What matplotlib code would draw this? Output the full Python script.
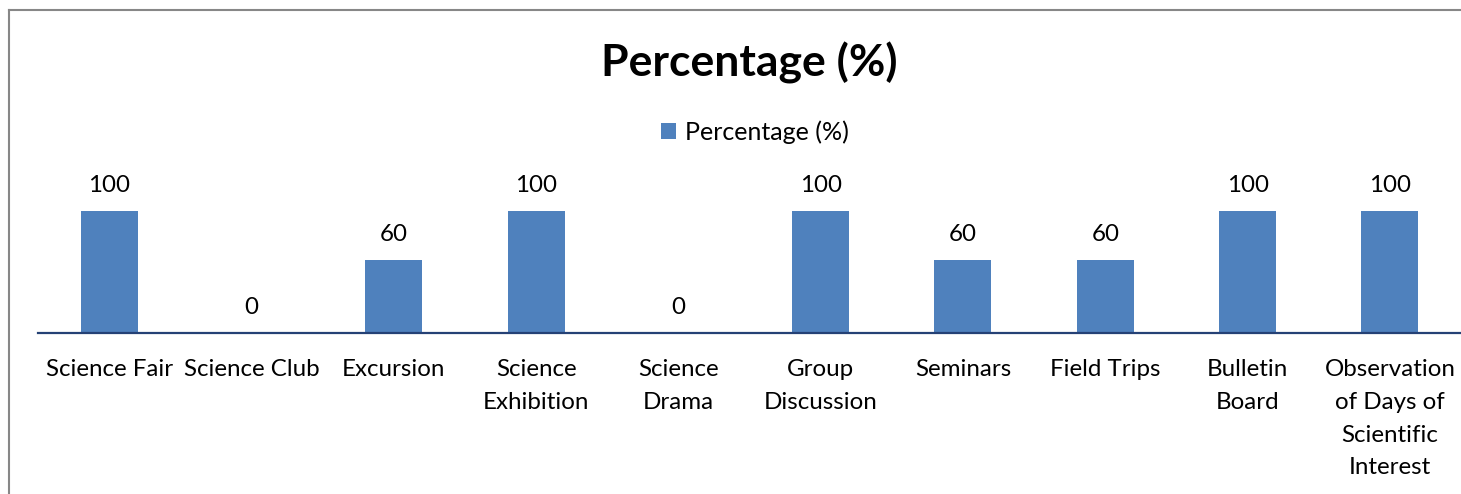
import matplotlib.pyplot as plt
from matplotlib.lines import Line2D

categories = ["Science Fair", "Science Club", "Excursion", "Science\nExhibition",
              "Science\nDrama", "Group\nDiscussion", "Seminars", "Field Trips",
              "Bulletin\nBoard", "Observation\nof Days of\nScientific\nInterest"]
values = [100, 0, 60, 100, 0, 100, 60, 60, 100, 100]
series_name = "Percentage (%)"

plt.rcParams['font.family'] = ['Lato', 'DejaVu Sans']

W, H = 1461, 494
fig = plt.figure(figsize=(W / 100, H / 100), dpi=100)

# plot area in pixel units
left, right, top, bottom = 38, 1461, 150, 333
ax = fig.add_axes([left / W, (H - bottom) / H, (right - left) / W, (bottom - top) / H])

bar_color = '#4F81BD'
x = range(len(categories))
bars = ax.bar(x, values, width=0.4, color=bar_color, label=series_name, zorder=2)
ax.set_xlim(-0.5, len(categories) - 0.5)
ax.set_ylim(0, 150)

for b, v in zip(bars, values):
    ax.annotate(str(v), (b.get_x() + b.get_width() / 2, v), xytext=(0, 10.5),
                textcoords='offset points', ha='center', va='bottom', fontsize=17.4)

ax.set_xticks(list(x))
ax.set_xticklabels(categories, fontsize=17.4, linespacing=1.68)
ax.tick_params(axis='x', length=0, pad=19)
ax.set_yticks([])
for s in ['top', 'right', 'left']:
    ax.spines[s].set_visible(False)
ax.spines['bottom'].set_color('#254175')
ax.spines['bottom'].set_linewidth(1.6)

fig.text(749 / W, 1 - 63 / H, series_name, ha='center', va='center',
         fontsize=32, fontweight='bold')
fig.legend(handles=[bars], labels=[series_name], loc='center',
           bbox_to_anchor=(755 / W, 1 - 132 / H), frameon=False, fontsize=18,
           handlelength=0.6, handleheight=0.6, handletextpad=0.35)

# outer chart frame
frame = '#878787'
fig.add_artist(Line2D([8.5 / W, 8.5 / W], [0, 1 - 10 / H], color=frame, lw=1.5,
                      transform=fig.transFigure))
fig.add_artist(Line2D([8.5 / W, 1460 / W], [1 - 10 / H, 1 - 10 / H], color=frame, lw=1.5,
                      transform=fig.transFigure))

fig.savefig('out.png', dpi=100)
